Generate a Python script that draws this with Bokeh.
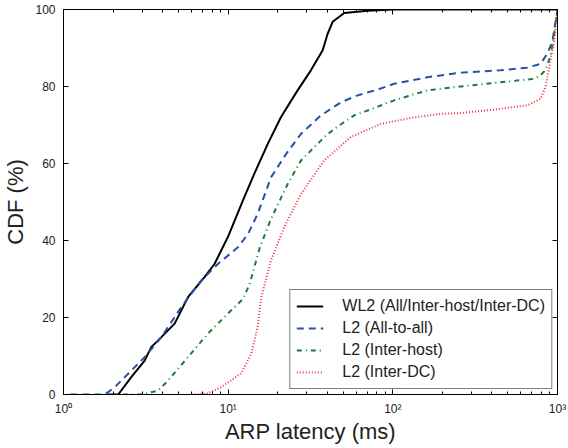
from bokeh.plotting import figure
from bokeh.models import FixedTicker, LogAxis, LinearAxis, Legend, LegendItem, Range1d
from bokeh.embed import file_html
from bokeh.resources import INLINE

# ---- data ----
wl2_x = [1.8, 2.15, 2.58, 3.11, 3.41, 3.93, 4.73, 5.70, 7.18, 8.26, 9.96, 12.3, 14.4, 17.4,
         20.9, 26.4, 31.8, 37.5, 40.2, 43.1, 50.7, 70.3, 100, 1000]
wl2_y = [0, 0, 4.5, 8.8, 12.3, 14.9, 18.4, 25.3, 30.5, 33.9, 40.9, 50.4, 57.3, 65.1,
         72, 79, 84.2, 89.4, 93.7, 96.8, 99.1, 99.7, 100, 100]

all_x = [1.1, 1.78, 2.05, 2.47, 3.11, 3.93, 5.19, 6.86, 8.66, 11.5, 13.2, 15.1, 18.2, 22.5,
         27.7, 36.6, 48.4, 61.1, 80.8, 101.8, 162, 258, 451, 655, 789, 866, 929, 1000]
all_y = [0, 0, 1.9, 5.4, 9.7, 14.9, 22.7, 29.6, 33.9, 38.3, 41.7, 46.9, 56.4, 62.5,
         67.7, 72.5, 75.9, 77.7, 79.2, 80.7, 82.4, 83.6, 84.2, 84.9, 85.9, 88.5, 91.5, 100]

host_x = [2.3, 2.97, 3.75, 4.31, 5.70, 7.53, 10.4, 12.3, 13.5, 14.4, 15.6, 18.2, 23.0, 27.7,
          33.3, 39.3, 46.2, 58.2, 68.6, 101.8, 162, 258, 411, 718, 789, 846, 907, 942, 1000]
host_y = [0, 0, 1, 3.6, 9.7, 15.8, 21.8, 24.8, 28.7, 33, 38.3, 45.6, 54.7, 60.8,
          64.2, 67.3, 69.6, 72.5, 73.6, 76.4, 79, 80, 80.9, 82, 82.9, 84.3, 88, 91.9, 100]

dc_x = [6.0, 7.5, 9.07, 12.0, 13.8, 15.1, 15.85, 18.2, 21.9, 27.7, 38.3, 55.6, 84.6, 135,
        195, 258, 411, 655, 789, 846, 885, 929, 959, 1000]
dc_y = [0, 0.3, 1.9, 5.5, 10.5, 17.5, 25, 34.8, 43.5, 52.1, 60.8, 66.9, 70.3, 72,
        72.9, 73.1, 74, 75.1, 76.8, 79.9, 84.2, 89.4, 92, 100]

x_ticks = [1, 10, 100, 1000]
x_tick_labels = ["10⁰", "10¹", "10²", "10³"]
y_ticks = [0, 20, 40, 60, 80, 100]
legend_labels = ["WL2 (All/Inter-host/Inter-DC)", "L2 (All-to-all)",
                 "L2 (Inter-host)", "L2 (Inter-DC)"]

FONT = "Liberation Sans"
minor = [m * d for d in (1, 10, 100) for m in range(2, 10)]

p = figure(width=568, height=448, x_axis_type="log",
           x_range=Range1d(1, 1000), y_range=Range1d(0, 100),
           output_backend="svg", toolbar_location=None,
           min_border_left=62, min_border_right=11, min_border_top=9, min_border_bottom=54)
p.grid.visible = False
p.outline_line_color = "black"
p.outline_line_width = 1
p.background_fill_color = "white"
p.border_fill_color = "white"

def style_axis(ax, labels=True):
    ax.major_tick_in = 5
    ax.major_tick_out = 0
    ax.minor_tick_in = 3
    ax.minor_tick_out = 0
    ax.axis_line_color = "black"
    ax.major_tick_line_color = "black"
    ax.minor_tick_line_color = "black"
    ax.major_label_text_font = FONT
    ax.major_label_text_font_size = "12px" if labels else "0px"
    ax.major_label_text_color = "#222222"
    ax.major_label_text_line_height = 1.0
    ax.major_label_standoff = 8 if labels else 0
    if not labels:
        ax.axis_label_standoff = 0

xt = FixedTicker(ticks=x_ticks, minor_ticks=minor)
yt = FixedTicker(ticks=y_ticks, minor_ticks=[])

p.xaxis.ticker = xt
p.xaxis.major_label_overrides = {t: l for t, l in zip(x_ticks, x_tick_labels)}
p.yaxis.ticker = yt
style_axis(p.xaxis[0])
style_axis(p.yaxis[0])
p.xaxis.axis_label = "ARP latency (ms)"
p.yaxis.axis_label = "CDF (%)"
for ax in (p.xaxis[0], p.yaxis[0]):
    ax.axis_label_text_font = FONT
    ax.axis_label_text_font_size = "22px"
    ax.axis_label_text_font_style = "normal"
    ax.axis_label_text_color = "#222222"
    ax.axis_label_text_line_height = 1.0
p.xaxis.major_label_standoff = 7
p.xaxis.axis_label_standoff = 0
p.yaxis.axis_label_standoff = 4

top = LogAxis(ticker=FixedTicker(ticks=x_ticks, minor_ticks=minor))
style_axis(top, labels=False)
top.major_label_overrides = {t: "" for t in x_ticks}
p.add_layout(top, "above")
right = LinearAxis(ticker=FixedTicker(ticks=y_ticks, minor_ticks=[]))
style_axis(right, labels=False)
right.major_label_overrides = {t: "" for t in y_ticks}
p.add_layout(right, "right")

r1 = p.line(wl2_x, wl2_y, line_color="black", line_width=2)
r2 = p.line(all_x, all_y, line_color="#2a4fa6", line_width=2, line_dash="7 5")
r3 = p.line(host_x, host_y, line_color="#1f7a36", line_width=2, line_dash="5 4 1 4")
r4 = p.line(dc_x, dc_y, line_color="#f0303a", line_width=2, line_dash="1 2")

legend = Legend(items=[LegendItem(label=l, renderers=[r]) for l, r in
                       zip(legend_labels, [r1, r2, r3, r4])],
                location="bottom_right")
legend.border_line_color = "black"
legend.border_line_width = 1
legend.background_fill_alpha = 1
legend.label_text_font = FONT
legend.label_text_font_size = "16px"
legend.label_text_color = "#222222"
legend.glyph_width = 27
legend.label_standoff = 19
legend.label_height = 20
legend.glyph_height = 20
legend.spacing = 2
legend.padding = 6
legend.margin = 5
p.add_layout(legend, "center")

open("out.html", "w").write(file_html(p, INLINE))
